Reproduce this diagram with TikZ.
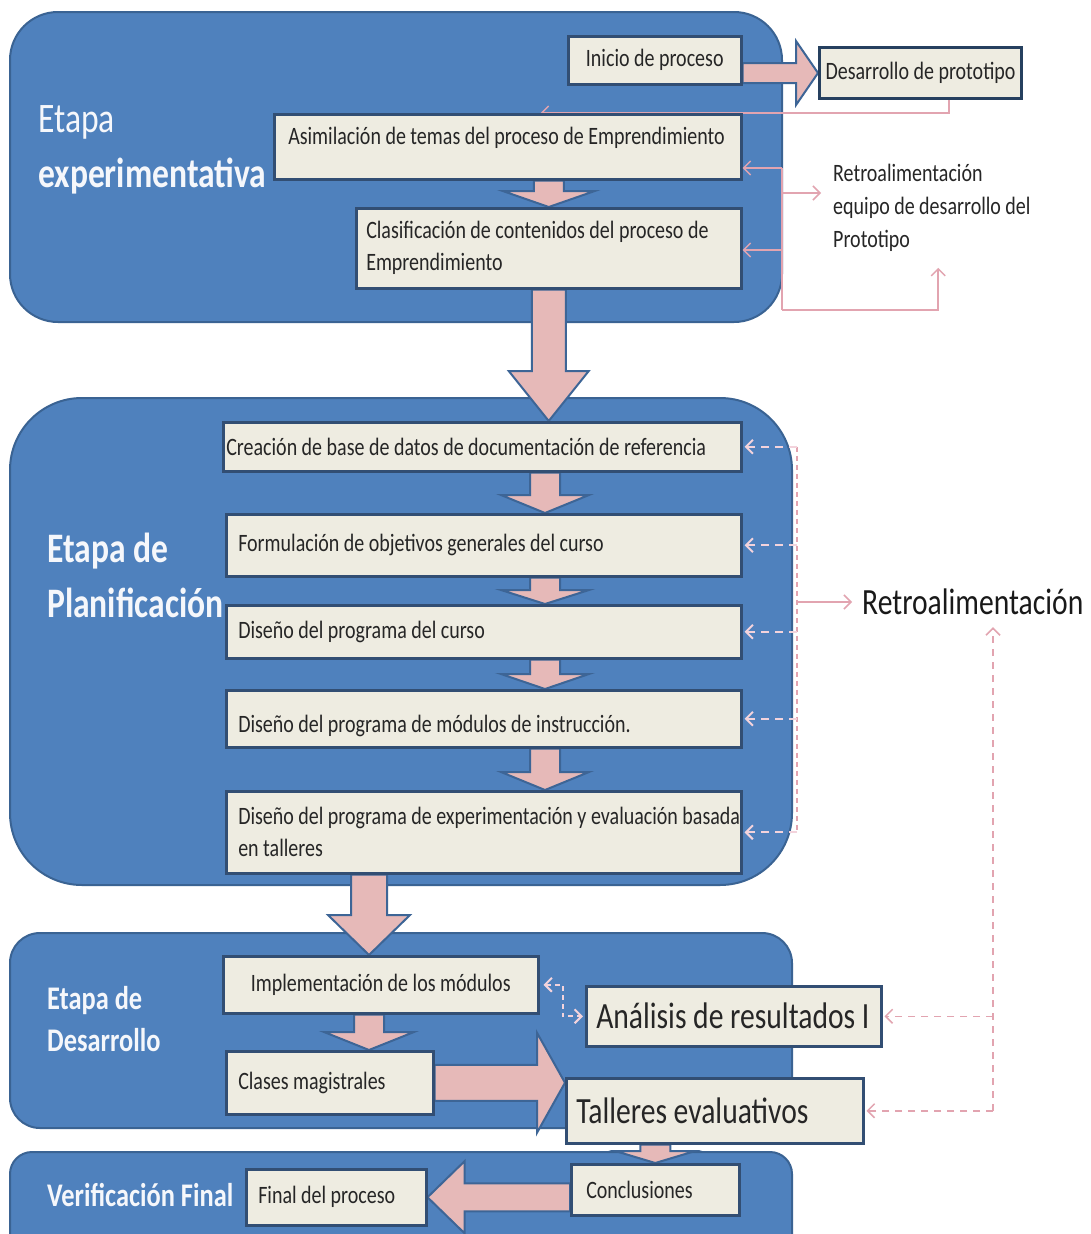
\documentclass[tikz,border=0pt]{standalone}
\usepackage{fontspec}
\setmainfont{Carlito}[FakeStretch=0.8]
\usetikzlibrary{calc,arrows.meta}
\pgfdeclarelayer{bg}
\pgfsetlayers{bg,main}

\definecolor{panelfill}{HTML}{4F81BD}
\definecolor{panelline}{HTML}{3A6393}
\definecolor{boxfill}{HTML}{EEECE1}
\definecolor{boxline}{HTML}{324E73}
\definecolor{boxdark}{HTML}{26405F}
\definecolor{arrowfill}{HTML}{E6B9B8}
\definecolor{arrowline}{HTML}{3D6596}
\definecolor{fbpink}{HTML}{E2A4B0}
\definecolor{fblight}{HTML}{F3D3DC}
\definecolor{txt}{HTML}{262626}
\definecolor{titletxt}{HTML}{F5F7FB}

% block arrows: #1 start, #2 tip, #3 half shaft width, #4 half head width, #5 head length
\newcommand{\blkdown}[5]{%
  \path[blockarrow] let \p1=#1, \p2=#2 in
    ({\x1-#3pt},\y1) -- ({\x1-#3pt},{\y2+#5pt}) -- ({\x1-#4pt},{\y2+#5pt})
    -- (\x1,\y2) -- ({\x1+#4pt},{\y2+#5pt}) -- ({\x1+#3pt},{\y2+#5pt})
    -- ({\x1+#3pt},\y1) -- cycle;}
\newcommand{\blkright}[5]{%
  \path[blockarrow] let \p1=#1, \p2=#2 in
    (\x1,{\y1+#3pt}) -- ({\x2-#5pt},{\y1+#3pt}) -- ({\x2-#5pt},{\y1+#4pt})
    -- (\x2,\y1) -- ({\x2-#5pt},{\y1-#4pt}) -- ({\x2-#5pt},{\y1-#3pt})
    -- (\x1,{\y1-#3pt}) -- cycle;}
\newcommand{\blkleft}[5]{%
  \path[blockarrow] let \p1=#1, \p2=#2 in
    (\x1,{\y1+#3pt}) -- ({\x2+#5pt},{\y1+#3pt}) -- ({\x2+#5pt},{\y1+#4pt})
    -- (\x2,\y1) -- ({\x2+#5pt},{\y1-#4pt}) -- ({\x2+#5pt},{\y1-#3pt})
    -- (\x1,{\y1-#3pt}) -- cycle;}

\begin{document}
\begin{tikzpicture}[x=1pt,y=-1pt,
  >={Straight Barb[length=7pt,width=14pt]},
  every node/.style={execute at begin node={\spaceskip=0.18em\xspaceskip=0.18em\relax}},
  panel/.style={fill=panelfill, draw=panelline, line width=2pt},
  stepbox/.style={draw=boxline, line width=2.5pt, fill=boxfill, anchor=north west,
    inner xsep=12pt, inner ysep=0pt, text=txt, font=\fontsize{25}{32}\selectfont, align=left},
  bigbox/.style={stepbox, font=\fontsize{37}{44}\selectfont, inner xsep=10pt},
  title/.style={text=titletxt, anchor=west, align=left, inner sep=0pt},
  note/.style={text=txt, inner sep=0pt, align=left},
  blockarrow/.style={fill=arrowfill, draw=arrowline, line width=2pt},
  fb/.style={draw=fbpink, line width=1.5pt},
  fbw/.style={draw=fblight, line width=2pt, dash pattern=on 8pt off 6pt},
  fbv/.style={draw=fbpink, line width=1.2pt, dash pattern=on 5pt off 4pt},
  fbd/.style={draw=fbpink, line width=1.5pt, dash pattern=on 7pt off 6pt}]

\useasboundingbox (0,0) rectangle (1090,1234);

% background and stage panels
\begin{pgfonlayer}{bg}
  \clip (0,0) rectangle (1090,1234);
  \fill[white] (0,0) rectangle (1090,1234);
  \draw[panel, rounded corners=48pt] (10,12) rectangle (782,322);
  \draw[panel, rounded corners=72pt] (10,398) rectangle (792,885);
  \draw[panel, rounded corners=30pt] (10,933) rectangle (792,1128);
  \draw[panel, rounded corners=22pt] (10,1152) rectangle (792,1290);
\end{pgfonlayer}

% stage titles
\node[title, font=\fontsize{42}{55}\selectfont] (t1) at (38,150) {Etapa\\\textbf{experimentativa}};
\node[title, font=\bfseries\fontsize{42}{55}\selectfont] (t2) at (47,575) {Etapa de\\Planificación};
\node[title, font=\bfseries\fontsize{33}{42}\selectfont] (t3) at (47,1019) {Etapa de\\Desarrollo};
\node[title, font=\bfseries\fontsize{33}{40}\selectfont] (t4) at (47,1195) {Verificación Final};

% process steps
\node[stepbox, minimum height=48pt, text width=149pt, align=center] (ini) at (567,35) {Inicio de proceso};
\node[stepbox, minimum height=51pt, text width=198pt, inner xsep=2pt, align=center,
      draw=boxdark, line width=3pt] (des) at (818,46) {Desarrollo de prototipo};
\node[stepbox, minimum height=65pt, text width=439pt, inner xsep=14pt, text depth=22pt] (asi) at (273,113)
  {\mbox{Asimilación de temas del proceso de Emprendimiento}};
\node[stepbox, minimum height=80pt, text width=365pt, inner xsep=10pt] (cla) at (355,207)
  {\mbox{Clasificación de contenidos del proceso de}\\Emprendimiento};
\node[stepbox, minimum height=49pt, text width=512pt, inner xsep=3pt] (cre) at (222,421)
  {\mbox{Creación de base de datos de documentación de referencia}};
\node[stepbox, minimum height=62pt, text width=491pt] (for) at (225,513) {Formulación de objetivos generales del curso};
\node[stepbox, minimum height=53pt, text width=491pt] (dcu) at (225,604) {Diseño del programa del curso};
\node[stepbox, minimum height=57pt, text width=491pt, text height=32pt] (dmo) at (225,689)
  {Diseño del programa de módulos de instrucción.};
\node[stepbox, minimum height=82pt, text width=491pt] (dex) at (225,790)
  {\mbox{Diseño del programa de experimentación y evaluación basada}\\en talleres};
\node[stepbox, minimum height=57pt, text width=291pt, align=center] (imp) at (222,955) {Implementación de los módulos};
\node[stepbox, minimum height=63pt, text width=183pt] (cm) at (225,1050) {Clases magistrales};
\node[bigbox, minimum height=60pt, text width=275pt] (ana) at (585,985) {\mbox{Análisis de resultados I}};
\node[bigbox, minimum height=65pt, text width=277pt] (tal) at (565,1077) {Talleres evaluativos};
\node[stepbox, minimum height=51pt, text width=138pt, inner xsep=15pt] (con) at (570,1163) {Conclusiones};
\node[stepbox, minimum height=56pt, text width=156pt] (fin) at (245,1168) {Final del proceso};

% feedback labels
\node[note, anchor=north west, text width=210pt, font=\fontsize{25}{33}\selectfont] (retro1) at (833,164)
  {Retroalimentación\\equipo de desarrollo del\\Prototipo};
\node[note, anchor=west, font=\fontsize{37}{44}\selectfont, text=black!90] (retro2) at (862,602) {Retroalimentación};

% helper coordinates
\coordinate (axis) at (545,0);
\coordinate (axisb) at (369,0);
\coordinate (desdrop) at ($(des.south west)!0.64!(des.south east)$);
\coordinate (asitop) at ($(asi.north west)!0.57!(asi.north east)$);

% flow arrows
\begin{pgfonlayer}{bg}
  \blkright{(ini.east |- des.west)}{(des.west)}{10}{32}{22}
  \blkdown{(asi.south -| cla.north)}{(cla.north)}{15}{46}{16}
  \blkdown{(cla.south)}{(cla.south |- cre.north)}{17}{40}{50}
  \blkdown{(cre.south -| axis)}{(for.north -| axis)}{15}{44}{18}
  \blkdown{(for.south -| axis)}{(dcu.north -| axis)}{15}{44}{14}
  \blkdown{(dcu.south -| axis)}{(dmo.north -| axis)}{15}{44}{15}
  \blkdown{(dmo.south -| axis)}{(dex.north -| axis)}{15}{44}{18}
  \blkdown{(dex.south -| axisb)}{(imp.north -| axisb)}{18}{41}{40}
  \blkdown{(imp.south -| axisb)}{(cm.north -| axisb)}{15}{45}{18}
  \blkright{(cm.east)}{(cm.east -| tal.west)}{18}{50}{28}
  \blkdown{(tal.south -| con.north)}{(con.north)}{15}{40}{12}
  \blkleft{(con.west |- fin.east)}{(fin.east)}{14}{36}{37}
  \draw[fb,->] (desdrop) |- (asitop);
\end{pgfonlayer}

% prototype team feedback
\coordinate (r1) at (782,168);
\coordinate (r2) at (782,193);
\coordinate (r3) at (782,250);
\coordinate (r4) at (782,310);
\draw[fb] (r1) -- (r4);
\draw[fb,->] (r1) -- (r1 -| asi.east);
\draw[fb,->,shorten >=12pt] (r2) -- (r2 -| retro1.west);
\draw[fb,->] (r3) -- (r3 -| cla.east);
\draw[fb,->,shorten >=16pt] (r4) -| (retro1.south);

% planning feedback
\coordinate (vl) at (797,0);
\draw[fbv] (cre.east -| vl) -- (dex.east -| vl);
\foreach \b in {cre,for,dcu,dmo,dex}
  \draw[fbw,->,shorten >=2pt] (\b.east -| vl) -- (\b.east);
\draw[fb,->,shorten >=10pt] (vl |- retro2.west) -- (retro2.west);

% results feedback loop
\coordinate (rr) at (993,0);
\draw[fbd,->,shorten >=12pt] (tal.east -| rr) -- (rr |- retro2.south);
\draw[fbd,->,shorten >=2pt] (tal.east -| rr) -- (tal.east);
\draw[fbd,->,shorten >=2pt] (ana.east -| rr) -- (ana.east);
\draw[fbw,<->,dash pattern=on 5pt off 4pt,shorten <=4pt,shorten >=2pt] (imp.east) -- ++(23,0) |- (ana.west);

\end{tikzpicture}
\end{document}
